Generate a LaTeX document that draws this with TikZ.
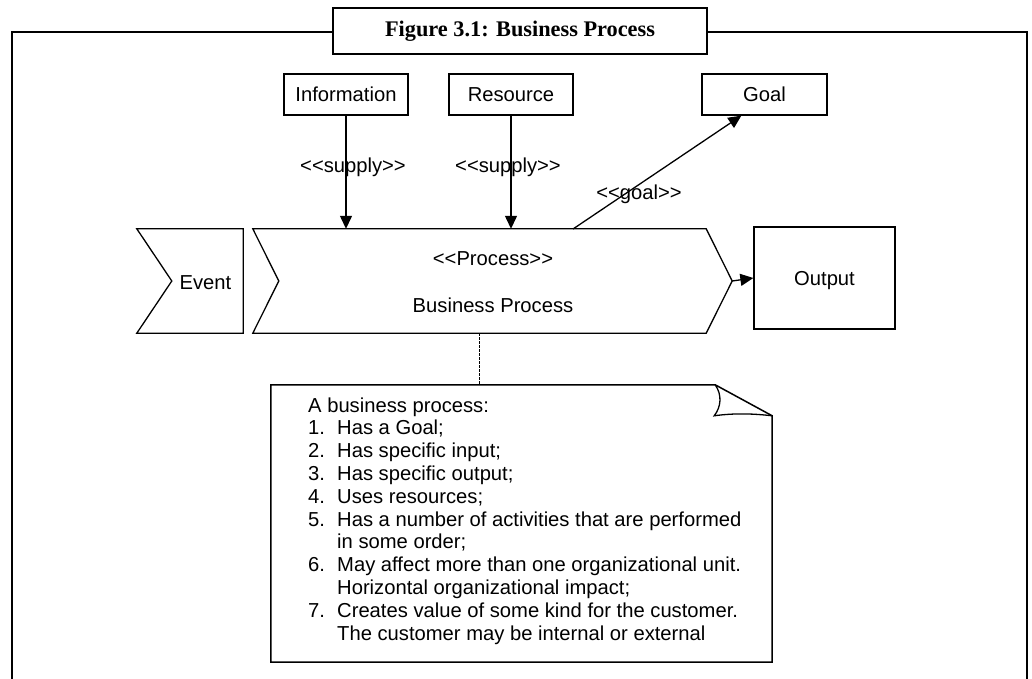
\documentclass[tikz,border=0pt]{standalone}
\usepackage{fontspec}
\setmainfont{Liberation Sans}
\newfontfamily\titlefont{Liberation Serif}
\usetikzlibrary{arrows.meta}
\newcommand{\stereo}[1]{<\kern0pt<#1>\kern0pt>}
\newcommand{\listno}[1]{\makebox[29pt][l]{#1}}
\tikzset{
	box/.style={draw, line width=1.3pt, minimum height=41pt, inner sep=0pt, font=\fontsize{20.2}{23}\selectfont, text height=14.5pt, text depth=0pt},
	lbl/.style={inner sep=0pt, font=\fontsize{20.2}{23}\selectfont, text height=14.5pt, text depth=0pt},
	shapebox/.style={inner sep=0pt, minimum height=104pt},
}

\begin{document}
\begin{tikzpicture}[x=1pt,y=-1pt,>={Triangle[length=13pt,width=12pt]}]
				\useasboundingbox (0,0) rectangle (1032,679);
				\draw[line width=2pt] (12,679) -- (12,32) -- (1027,32) -- (1027,679);
				\node[draw, line width=2pt, fill=white, minimum width=374pt, minimum height=46pt, inner sep=0pt, font=\titlefont\bfseries\fontsize{22.3}{26}\selectfont] (title) at (520,31) {Figure 3.1: Business Process};

				\node[box, minimum width=124pt] (info) at (346,94.5) {Information};
				\node[box, minimum width=124pt] (res) at (511,94.5) {Resource};
				\node[box, minimum width=125pt] (goal) at (764.5,94.5) {Goal};
				\node[box, minimum width=141pt, minimum height=102pt] (out) at (824.5,278) {Output};

				\node[shapebox, minimum width=106pt] (event) at (190,281) {};
				\draw[line width=1.3pt] (event.north west) -- (event.north east) -- (event.south east) -- (event.south west) -- ([xshift=35pt]event.west) -- cycle;
				\node[lbl] (eventtext) at (205.5,282) {Event};

				\node[shapebox, minimum width=453pt] (proc) at (479.5,281) {};
				\draw[line width=1.3pt] (proc.north west) -- (proc.north east) -- ([xshift=26pt]proc.east) coordinate (proctip) -- (proc.south east) -- (proc.south west) -- ([xshift=26pt]proc.west) -- cycle;
				\node[lbl] (proctop) at (493,258) {\stereo{Process}};
				\node[lbl] (procname) at (493,305) {Business Process};

				\draw[->, line width=1.3pt] (info.south) -- (info.south |- proc.north);
				\draw[->, line width=1.3pt] (res.south) -- (res.south |- proc.north);
				\coordinate (goalfoot) at (573,229);
				\draw[->, line width=1.3pt] (goalfoot) -- ([xshift=40pt]goal.south west);
				\draw[->, line width=1.3pt] (proctip) -- (out.west);
				\node[lbl] (supplyinfo) at (353,165) {\stereo{supply}};
				\node[lbl] (supplyres) at (508,165) {\stereo{supply}};
				\node[lbl] (goallabel) at (639,192) {\stereo{goal}};

				% note with folded corner
				\node[inner sep=0pt, minimum width=501pt, minimum height=277pt] (note) at (521.5,523.5) {};
				\draw[line width=1.5pt, dash pattern=on 2.5pt off 1.5pt] (proc.south) -- (proc.south |- note.north);
				\draw[line width=1.5pt] (note.south west) -- (note.north west) -- ([xshift=-57pt]note.north east) coordinate (fold) -- ([yshift=-31pt]note.north east) coordinate (foldtip) -- (note.south east) -- cycle;
				\draw[line width=1.3pt] (fold) .. controls ([xshift=7pt,yshift=-10pt]fold) and ([xshift=6pt,yshift=-22pt]fold) .. ([xshift=-1pt,yshift=-31pt]fold) .. controls ([xshift=20pt,yshift=-28pt]fold) and ([xshift=40pt,yshift=-29pt]fold) .. (foldtip);
				\foreach \line [count=\i from 0] in {A business process:, \listno{1.}Has a Goal;, \listno{2.}Has specific input;, \listno{3.}Has specific output;, \listno{4.}Uses resources;, \listno{5.}Has a number of activities that are performed, \listno{}in some order;, \listno{6.}May affect more than one organizational unit., \listno{}Horizontal organizational impact;, \listno{7.}Creates value of some kind for the customer., \listno{}The customer may be internal or external}
					\node[lbl, anchor=base west] (noteline\i) at (308,{412+\i*22.8}) {\line};
			\end{tikzpicture}
\end{document}
